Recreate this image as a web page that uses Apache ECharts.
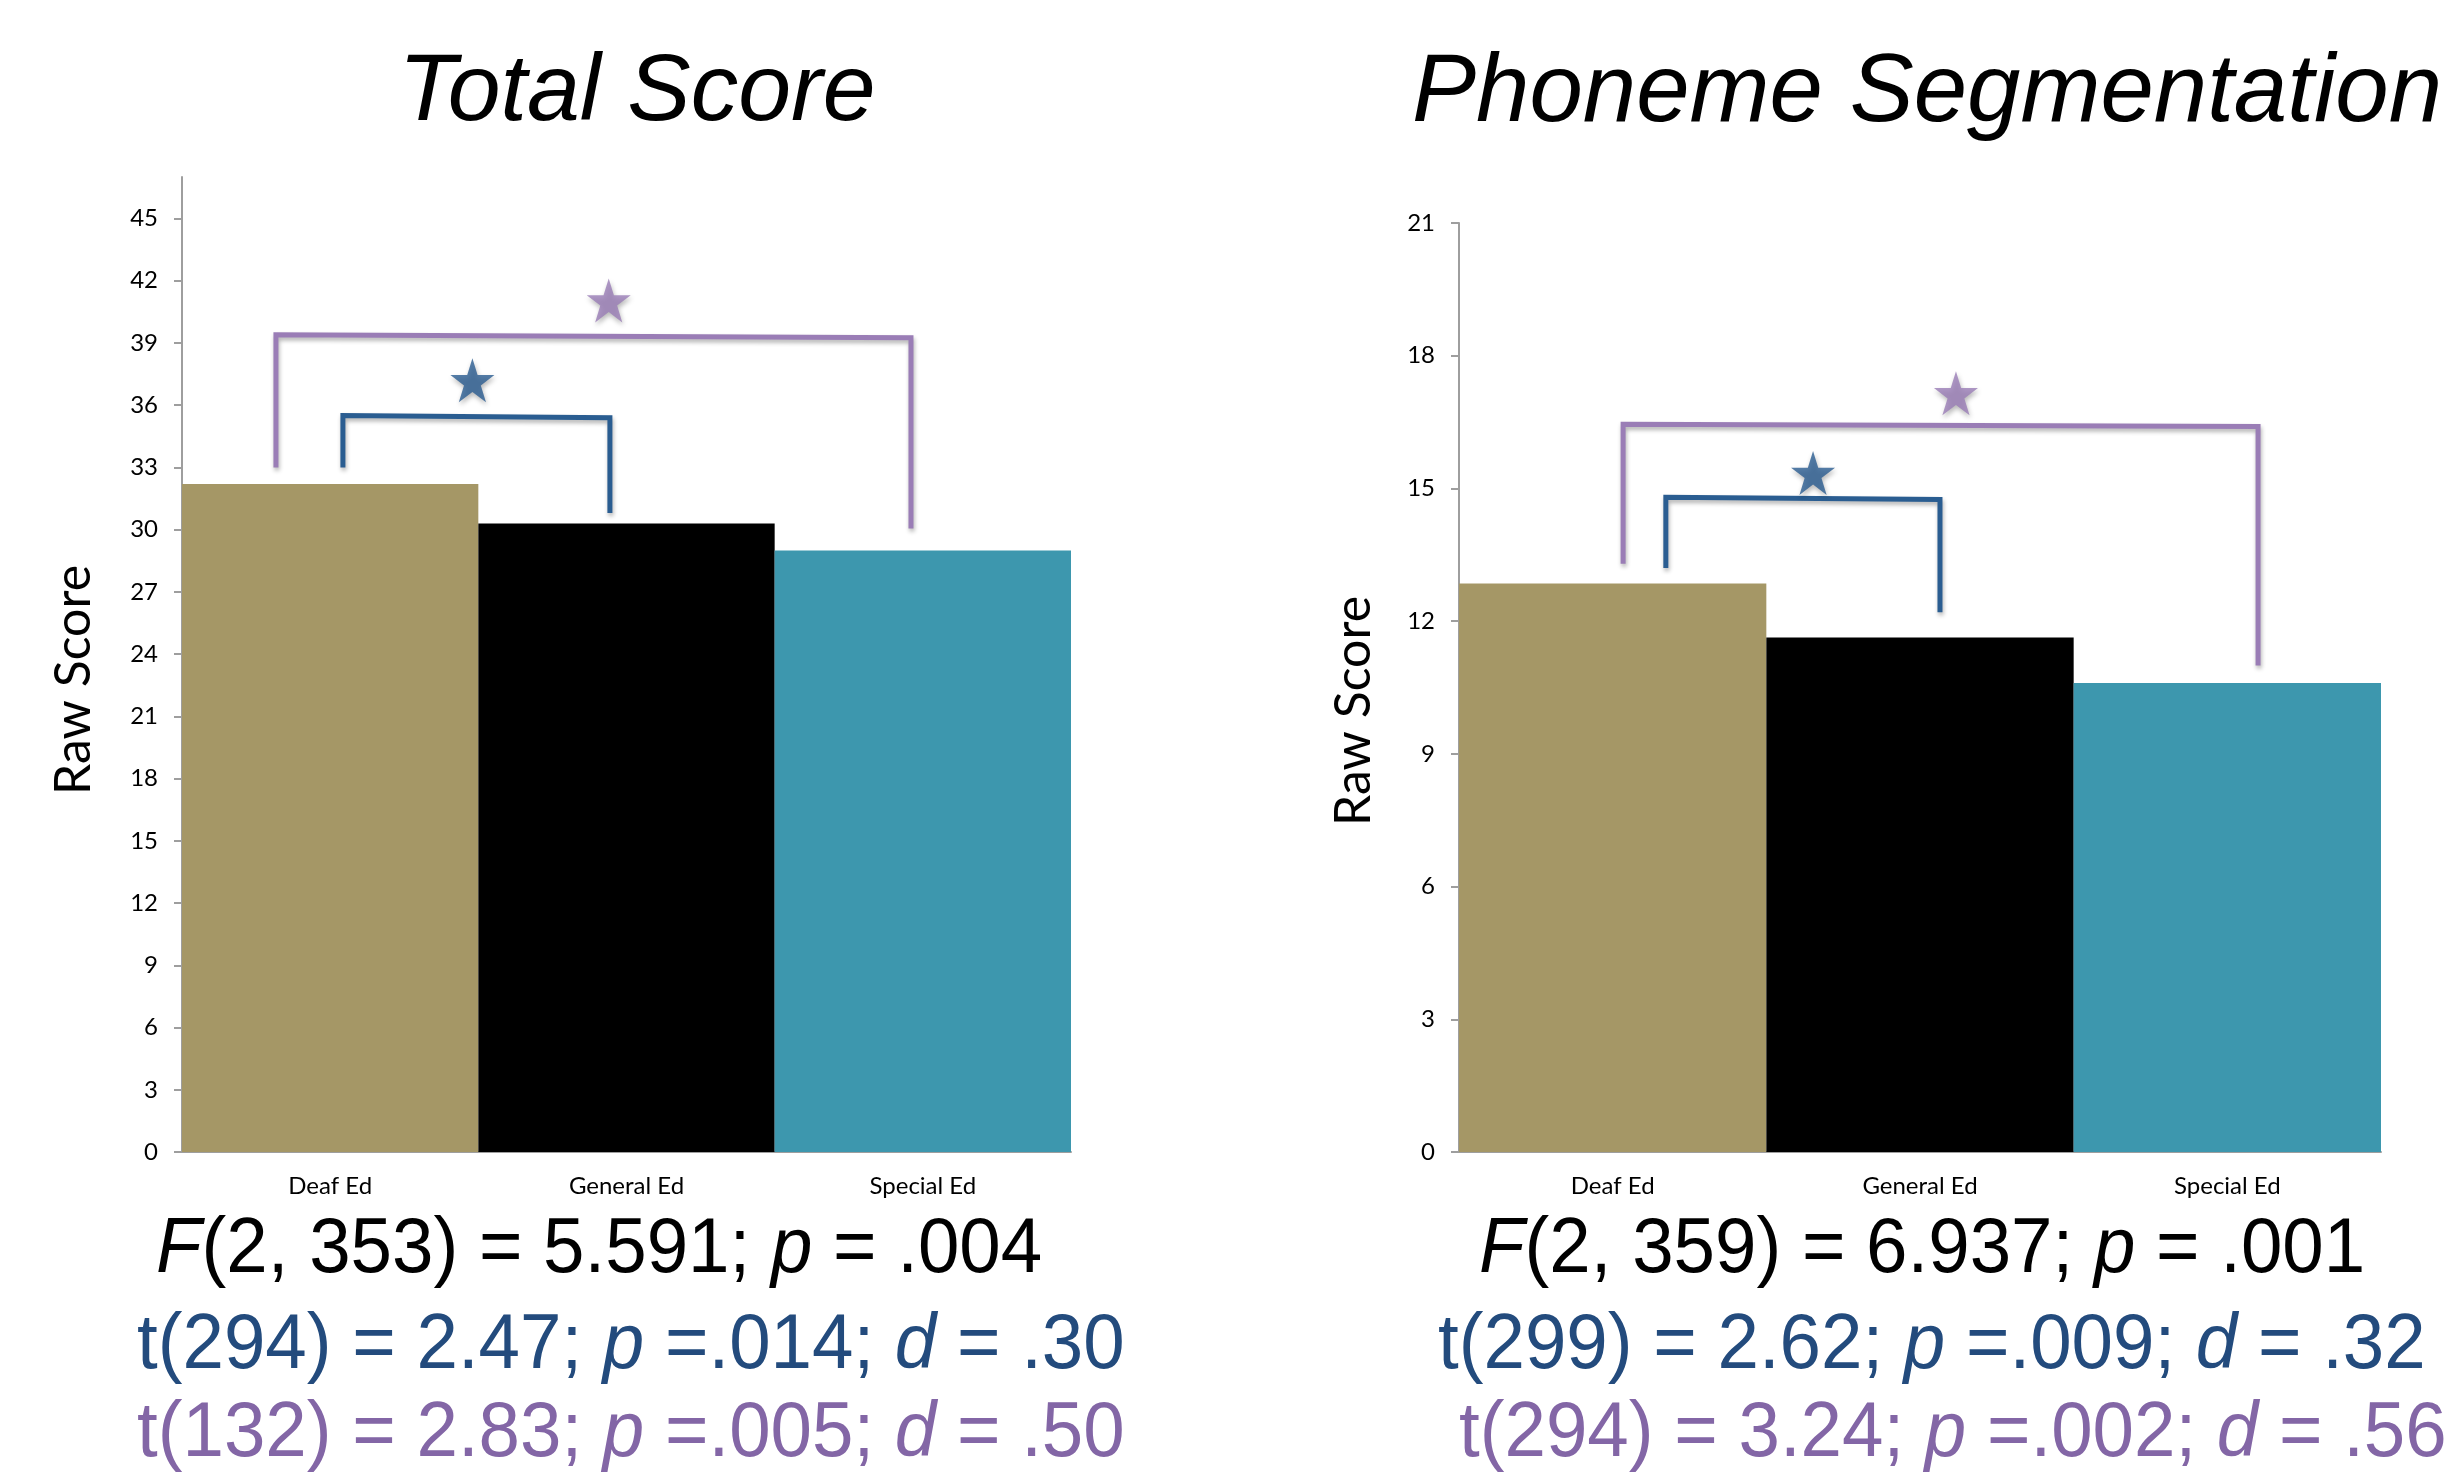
<!DOCTYPE html>
<html>
<head>
<meta charset="utf-8">
<script src="https://cdn.jsdelivr.net/npm/echarts@6/dist/echarts.min.js"></script>
<style>
  html, body { margin: 0; padding: 0; background: #fff; }
  #chart { width: 2446px; height: 1474px; }
</style>
</head>
<body>
<div id="chart"></div>
<script>
// groups on the x axis
const categories = ['Deaf Ed', 'General Ed', 'Special Ed']
const barColors = ['#A59766', '#000000', '#3D97AE']

// group means
const totalScores = [32.2, 30.3, 29.0]
const phonemeScores = [12.85, 11.63, 10.6]

// tick labels
const totalTicks = [0, 3, 6, 9, 12, 15, 18, 21, 24, 27, 30, 33, 36, 39, 42, 45]
const phonemeTicks = [0, 3, 6, 9, 12, 15, 18, 21]

// significance brackets, x in category widths (0..3), y in raw score
const totalBlueBracket = [[0.543, 33.0], [0.543, 35.5], [1.444, 35.4], [1.444, 30.8]]
const totalPurpleBracket = [[0.317, 33.0], [0.317, 39.4], [2.46, 39.25], [2.46, 30.05]]
const totalStars = [[0.98, 37.2], [1.44, 41.05]]
const phonemeBlueBracket = [[0.673, 13.2], [0.673, 14.8], [1.565, 14.75], [1.565, 12.2]]
const phonemePurpleBracket = [[0.534, 13.3], [0.534, 16.45], [2.60, 16.4], [2.60, 11.0]]
const phonemeStars = [[1.152, 15.35], [1.617, 17.15]]

const BLUE = '#2A5D91'
const PURPLE = '#9A7DB6'
const STAR = 'path://M50,0 L61.2,34.5 L97.6,34.5 L68.2,55.9 L79.4,90.5 L50,69.1 L20.6,90.5 L31.8,55.9 L2.4,34.5 L38.8,34.5 Z'
const sans = '"Liberation Sans", Arial, sans-serif'
const labelFont = 'Lato, "Open Sans", sans-serif'

const chart = echarts.init(document.getElementById('chart'))

function yAxisFor(gridIndex, max, ticks) {
  return {
    type: 'value',
    gridIndex,
    min: 0,
    max,
    axisLine: { show: true, lineStyle: { color: '#9E9E9E', width: 2 } },
    axisTick: { show: true, length: 8, customValues: ticks, lineStyle: { color: '#9E9E9E', width: 2 } },
    axisLabel: { customValues: ticks, margin: 24, fontFamily: labelFont, fontSize: 24, color: '#000' },
    splitLine: { show: false }
  }
}

function catAxisFor(gridIndex) {
  return {
    type: 'category',
    gridIndex,
    data: categories,
    axisLine: { lineStyle: { color: '#9E9E9E', width: 2 } },
    axisTick: { length: 9, lineStyle: { color: '#9E9E9E', width: 2 } },
    axisLabel: { margin: 22, fontFamily: labelFont, fontSize: 24, color: '#000' }
  }
}

function overlayAxisFor(gridIndex) {
  return { type: 'value', gridIndex, min: 0, max: 3, show: false }
}

function bars(gridIndex, values) {
  return {
    type: 'bar',
    xAxisIndex: gridIndex * 2,
    yAxisIndex: gridIndex,
    barCategoryGap: 0,
    data: values.map((v, i) => ({ value: v, itemStyle: { color: barColors[i] } })),
    silent: true
  }
}

function bracket(gridIndex, pts, color) {
  return {
    type: 'line',
    xAxisIndex: gridIndex * 2 + 1,
    yAxisIndex: gridIndex,
    data: pts,
    symbol: 'none',
    z: 5,
    lineStyle: {
      color, width: 5, join: 'miter',
      shadowColor: 'rgba(0,0,0,0.3)', shadowBlur: 4, shadowOffsetX: 1, shadowOffsetY: 3
    }
  }
}

function stars(gridIndex, pts) {
  return {
    type: 'scatter',
    xAxisIndex: gridIndex * 2 + 1,
    yAxisIndex: gridIndex,
    symbol: STAR,
    symbolSize: 44,
    z: 6,
    data: pts.map((p, i) => ({ value: p, itemStyle: { color: i === 0 ? BLUE : PURPLE } })),
    itemStyle: { shadowColor: 'rgba(0,0,0,0.35)', shadowBlur: 5, shadowOffsetX: 1, shadowOffsetY: 3 }
  }
}

function statText(x, y, text, color) {
  const font = { fill: color, fontFamily: sans, fontSize: 78 }
  return {
    type: 'text',
    x, y,
    scaleX: 0.955,
    style: {
      text,
      ...font,
      verticalAlign: 'middle',
      rich: {
        n: { ...font },
        i: { ...font, fontStyle: 'italic' }
      }
    }
  }
}

function axisName(x, y) {
  return {
    type: 'text', x, y, rotation: Math.PI / 2,
    style: { text: 'Raw Score', fontFamily: labelFont, fontSize: 50, fill: '#000', align: 'center', verticalAlign: 'middle' }
  }
}

chart.setOption({
  backgroundColor: '#fff',
  animation: false,
  grid: [
    { left: 182, top: 177, width: 889, height: 975 },
    { left: 1459, top: 223, width: 922, height: 929 }
  ],
  xAxis: [catAxisFor(0), overlayAxisFor(0), catAxisFor(1), overlayAxisFor(1)],
  yAxis: [yAxisFor(0, 47, totalTicks), yAxisFor(1, 21, phonemeTicks)],
  series: [
    bars(0, totalScores),
    bracket(0, totalPurpleBracket, PURPLE),
    bracket(0, totalBlueBracket, BLUE),
    stars(0, totalStars),
    bars(1, phonemeScores),
    bracket(1, phonemePurpleBracket, PURPLE),
    bracket(1, phonemeBlueBracket, BLUE),
    stars(1, phonemeStars)
  ],
  graphic: [
    {
      type: 'text', x: 637, y: 94,
      style: { text: 'Total Score', fontFamily: sans, fontSize: 95, fontStyle: 'italic', fill: '#000', align: 'center', verticalAlign: 'middle' }
    },
    {
      type: 'text', x: 1412, y: 94,
      style: { text: 'Phoneme Segmentation', fontFamily: sans, fontSize: 96, fontStyle: 'italic', fill: '#000', align: 'left', verticalAlign: 'middle' }
    },
    axisName(74, 680),
    axisName(1354, 711),
    statText(156, 1250, '{i|F}{n|(2, 353) = 5.591; }{i|p}{n| = .004}', '#000'),
    statText(137, 1346, '{n|t(294) = 2.47; }{i|p}{n| =.014; }{i|d}{n| = .30}', '#234B7D'),
    statText(137, 1434, '{n|t(132) = 2.83; }{i|p}{n| =.005; }{i|d}{n| = .50}', '#8366A6'),
    statText(1479, 1250, '{i|F}{n|(2, 359) = 6.937; }{i|p}{n| = .001}', '#000'),
    statText(1438, 1346, '{n|t(299) = 2.62; }{i|p}{n| =.009; }{i|d}{n| = .32}', '#234B7D'),
    statText(1459, 1434, '{n|t(294) = 3.24; }{i|p}{n| =.002; }{i|d}{n| = .56}', '#8366A6')
  ]
})
</script>
</body>
</html>
